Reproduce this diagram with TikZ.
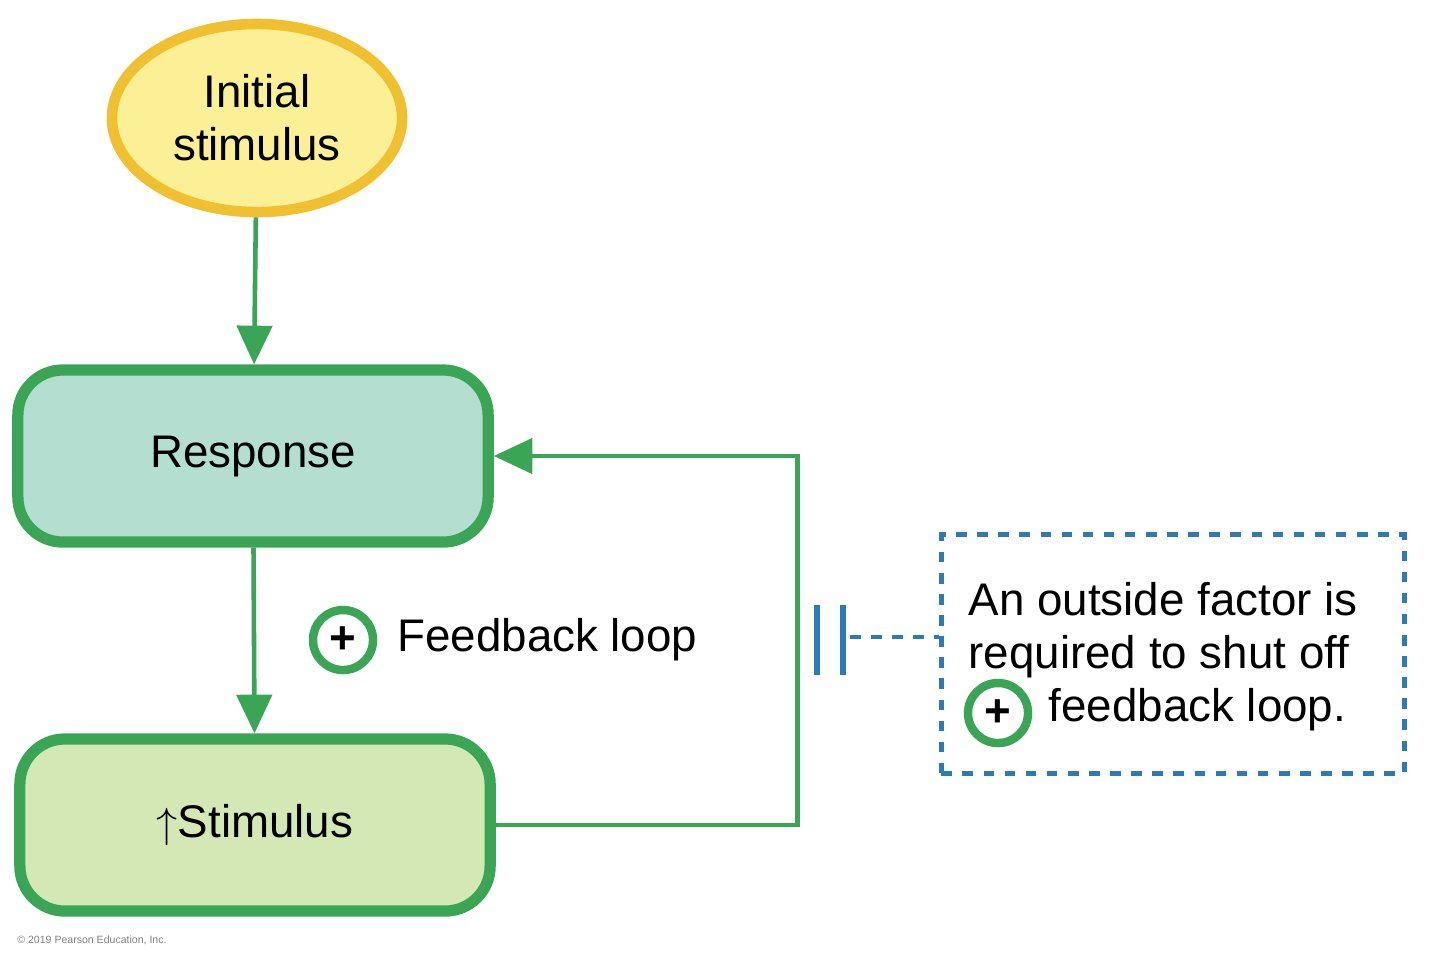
\documentclass[tikz,border=0pt]{standalone}
\usepackage{fontspec}
\setmainfont{Liberation Sans}
\usetikzlibrary{shapes.geometric,arrows.meta}
\definecolor{leaf}{RGB}{58,166,85}
\definecolor{gold}{RGB}{240,192,48}
\definecolor{butter}{RGB}{252,240,150}
\definecolor{teal}{RGB}{180,222,208}
\definecolor{lime}{RGB}{212,232,182}
\definecolor{sky}{RGB}{43,123,185}

\begin{document}
\begin{tikzpicture}[
    x=0.01cm, y=-0.01cm,
    font=\fontsize{13}{15}\selectfont,
    box/.style={draw=leaf, line width=3.2pt, rounded corners=0.45cm,
                minimum width=4.7cm, minimum height=1.72cm},
    flow/.style={draw=leaf, line width=1.3pt, -{Triangle[length=11pt,width=10pt]}},
    plus/.style={circle, draw=leaf, line width=2.4pt, minimum size=0.6cm, inner sep=0pt}
    ]
    \useasboundingbox (0,0) rectangle (1440,953);

    \node [ellipse, draw=gold, fill=butter, line width=3pt,
           minimum width=2.9cm, minimum height=1.88cm, align=center] (initial) at (257,118)
        {Initial\\stimulus};
    \node [box, fill=teal] (response) at (253,456) {Response};
    \node [box, fill=lime] (stimulus) at (255,825) {$\uparrow$Stimulus};

    \draw [flow] (initial) -- (response);
    \draw [flow] (response) -- (stimulus);
    \draw [flow] (stimulus.east) -- ++(302,0) |- (response.east);

    \node [plus] (loopsign) at (343,640) {\textbf{+}};
    \node [anchor=west] (looplabel) at (385,640) {Feedback loop};

    % outside factor
    \draw [sky, line width=1.6pt] (817,605) -- (817,675) (843,605) -- (843,675);
    \node [draw=sky, dashed, line width=1.4pt, minimum width=4.63cm, minimum height=2.38cm]
        (factor) at (1173,654) {};
    \coordinate (barend) at (850,637);
    \draw [sky, dashed, line width=1.4pt] (barend) -- (factor.west |- barend);
    \node [anchor=north west, align=left, inner sep=0pt] (factortext) at (968,582)
        {An outside factor is\\required to shut off\\\hspace{0.8cm}feedback loop.};
    \node [plus] (factorsign) at (998,713) {\textbf{+}};

    \node [anchor=west, font=\fontsize{3}{4}\selectfont, text=gray] (credit) at (5,940)
        {\copyright\ 2019 Pearson Education, Inc.};
\end{tikzpicture}
\end{document}
